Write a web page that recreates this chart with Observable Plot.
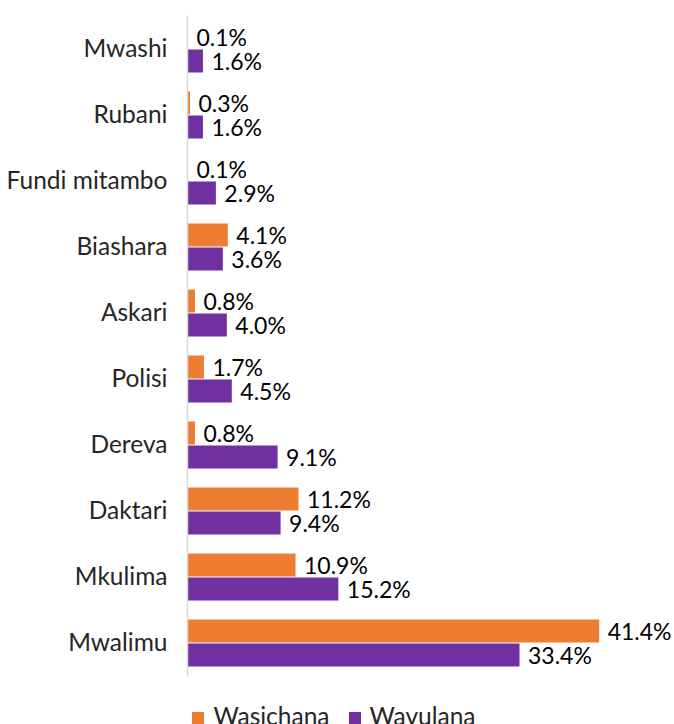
<!DOCTYPE html>
<html>
<head>
<meta charset="utf-8">
<script src="https://cdn.jsdelivr.net/npm/d3@7"></script>
<script src="https://cdn.jsdelivr.net/npm/@observablehq/plot@0.6"></script>
<style>
  body { margin: 0; background: #fff; font-family: Lato, sans-serif; }
  #chart { width: 674px; }
  .legend { display: flex; justify-content: center; gap: 19px; font-family: Lato, sans-serif; font-size: 24.5px; line-height: 28px; color: #262626; margin-top: 16px; padding-right: 6px; }
  .legend span.item { display: flex; align-items: center; gap: 9px; }
  .legend span.sw { width: 12px; height: 12px; display: inline-block; margin-top: 4px; }
</style>
</head>
<body>
<div id="chart"></div>
<script>
const categories = ["Mwashi", "Rubani", "Fundi mitambo", "Biashara", "Askari", "Polisi", "Dereva", "Daktari", "Mkulima", "Mwalimu"];
const series = ["Wasichana", "Wavulana"];
const wasichana = [0.1, 0.3, 0.1, 4.1, 0.8, 1.7, 0.8, 11.2, 10.9, 41.4];
const wavulana = [1.6, 1.6, 2.9, 3.6, 4.0, 4.5, 9.1, 9.4, 15.2, 33.4];
const colors = ["#ED7D31", "#7030A0"];

const data = categories.flatMap((c, i) => [
  {cat: c, series: series[0], value: wasichana[i]},
  {cat: c, series: series[1], value: wavulana[i]}
]);

const H = 686, MT = 12, MB = 6, PAD = 0.28;
const step = (H - MT - MB) / categories.length;
const halfGap = step * PAD / 2;

const chart = Plot.plot({
  width: 674,
  height: H,
  marginLeft: 187,
  marginRight: 39,
  marginTop: MT,
  marginBottom: MB,
  style: {fontFamily: "Lato, sans-serif", color: "#262626", background: "#fff"},
  x: {domain: [0, 45], axis: null},
  fy: {domain: categories, paddingInner: PAD, paddingOuter: PAD / 2, axis: null, label: null},
  y: {domain: series, padding: 0, axis: null},
  color: {domain: series, range: colors},
  marks: [
    Plot.barX(data, {fy: "cat", y: "series", x: "value", fill: "series", insetTop: 0.5, insetBottom: 0.5}),
    Plot.text(data, {fy: "cat", y: "series", x: "value", text: d => d.value.toFixed(1) + "%", textAnchor: "start", dx: 8, dy: 1, fontSize: 23, fill: "#000"}),
    Plot.axisFy({anchor: "left", tickSize: 0, tickPadding: 20, fontSize: 24.5, label: null, fill: "#262626"}),
    Plot.ruleX([0], {stroke: "#d9d9d9", strokeWidth: 1.5, insetTop: -halfGap, insetBottom: -halfGap})
  ]
});
document.getElementById("chart").appendChild(chart);

const legend = document.createElement("div");
legend.className = "legend";
series.forEach((s, i) => {
  const item = document.createElement("span");
  item.className = "item";
  const sw = document.createElement("span");
  sw.className = "sw";
  sw.style.background = colors[i];
  item.appendChild(sw);
  item.appendChild(document.createTextNode(s));
  legend.appendChild(item);
});
document.getElementById("chart").appendChild(legend);
</script>
</body>
</html>
